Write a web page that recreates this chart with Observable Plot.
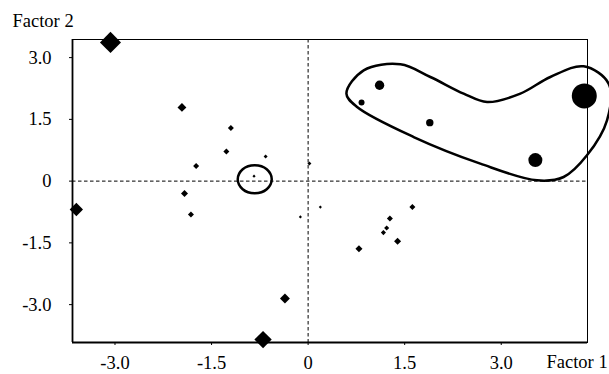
<!DOCTYPE html>
<html>
<head>
<meta charset="utf-8">
<script src="https://cdn.jsdelivr.net/npm/d3@7"></script>
<script src="https://cdn.jsdelivr.net/npm/@observablehq/plot@0.6"></script>
<style>
  html, body { margin: 0; padding: 0; background: #fff; }
  svg { display: block; }
  svg text { font-family: "Liberation Serif", "Times New Roman", serif; }
</style>
</head>
<body>
<div id="chart"></div>
<script>
// Diamonds (factor scores), weights
const diamondX = [-3.07, -1.96, -1.20, -1.27, -0.66, -1.74, -0.84, 0.02, -1.92, -1.82, -0.12, 0.19, 1.62, 1.27, 1.22, 1.17, 1.39, 0.79, -3.60, -0.36, -0.70];
const diamondY = [3.37, 1.79, 1.29, 0.72, 0.60, 0.37, 0.12, 0.43, -0.30, -0.81, -0.87, -0.63, -0.63, -0.91, -1.14, -1.25, -1.46, -1.64, -0.69, -2.85, -3.85];
const diamondW = [90, 16, 7.3, 7.3, 3.2, 7.3, 2, 3.2, 10, 7.3, 2, 2, 7.3, 7.3, 5.3, 5.3, 10, 10, 36, 20, 61];

// Circles (cluster)
const circleX = [1.11, 0.83, 1.89, 3.53, 4.29];
const circleY = [2.33, 1.91, 1.42, 0.51, 2.07];
const circleW = [22, 9, 13.7, 49, 156];

// Hand-drawn cluster outline (data units)
const blobX = [0.595, 0.863, 1.433, 1.899, 2.416, 2.780, 3.297, 3.763, 4.280, 4.668, 4.643, 4.332, 3.969, 3.556, 2.675, 1.640, 0.761];
const blobY = [2.125, 2.691, 2.837, 2.529, 2.125, 1.921, 2.125, 2.529, 2.788, 2.368, 1.477, 0.627, 0.100, 0.019, 0.425, 1.071, 1.800];

// Small outline around one point
const ringX = [-1.093, -1.016, -0.829, -0.643, -0.565, -0.643, -0.829, -1.016];
const ringY = [0.044, 0.287, 0.384, 0.287, 0.044, -0.199, -0.296, -0.199];

// Ticks
const xTicks = [-3.0, -1.5, 0, 1.5, 3.0];
const xTickLabels = ["-3.0", "-1.5", "0", "1.5", "3.0"];
const yTicks = [3.0, 1.5, 0, -1.5, -3.0];
const yTickLabels = ["3.0", "1.5", "0", "-1.5", "-3.0"];

const xDomain = [-3.66, 4.34];
const yDomain = [-3.92, 3.44];

const diamonds = diamondX.map((x, i) => ({x, y: diamondY[i], w: diamondW[i]}));
const circles = circleX.map((x, i) => ({x, y: circleY[i], w: circleW[i]}));
const blob = blobX.map((x, i) => ({x, y: blobY[i]}));
const ring = ringX.map((x, i) => ({x, y: ringY[i]}));

const font = {fontFamily: "Liberation Serif", fontSize: 18.5};

const plot = Plot.plot({
  width: 609,
  height: 374,
  marginLeft: 72,
  marginRight: 22,
  marginTop: 39,
  marginBottom: 32,
  style: "font-family: 'Liberation Serif', serif; font-size: 18.5px; color: black; background: white;",
  x: {domain: xDomain, axis: null},
  y: {domain: yDomain, axis: null},
  r: {type: "sqrt", domain: [0, 100], range: [0, 10]},
  marks: [
    Plot.ruleX([0], {stroke: "black", strokeWidth: 1, strokeDasharray: "3.5,2.5"}),
    Plot.ruleY([0], {stroke: "black", strokeWidth: 1, strokeDasharray: "3.5,2.5"}),
    Plot.frame({stroke: "black", strokeWidth: 1}),
    Plot.ruleX([xDomain[0]], {stroke: "black", strokeWidth: 1.8}),
    Plot.ruleY([yDomain[0]], {stroke: "black", strokeWidth: 1.8}),
    Plot.axisX({ticks: xTicks, tickFormat: (d, i) => xTickLabels[i], tickSize: 3, tickPadding: 10, anchor: "bottom", label: null, ...font}),
    Plot.axisY({ticks: yTicks, tickFormat: (d, i) => yTickLabels[i], tickSize: 3, tickPadding: 18, anchor: "left", label: null, ...font}),
    Plot.line(blob, {x: "x", y: "y", curve: "catmull-rom-closed", stroke: "black", strokeWidth: 2.5}),
    Plot.line(ring, {x: "x", y: "y", curve: "catmull-rom-closed", stroke: "black", strokeWidth: 2.5}),
    Plot.dot(diamonds, {x: "x", y: "y", r: "w", symbol: "diamond2", fill: "black", stroke: "none"}),
    Plot.dot(circles, {x: "x", y: "y", r: "w", fill: "black", stroke: "none"}),
    Plot.text(["Factor 2"], {frameAnchor: "top-left", dx: -60, dy: -18, textAnchor: "start", lineAnchor: "middle", fill: "black", ...font}),
    Plot.text(["Factor 1"], {frameAnchor: "bottom-right", dx: -41, dy: 20, textAnchor: "start", lineAnchor: "middle", fill: "black", ...font})
  ]
});
document.getElementById("chart").appendChild(plot);
</script>
</body>
</html>
